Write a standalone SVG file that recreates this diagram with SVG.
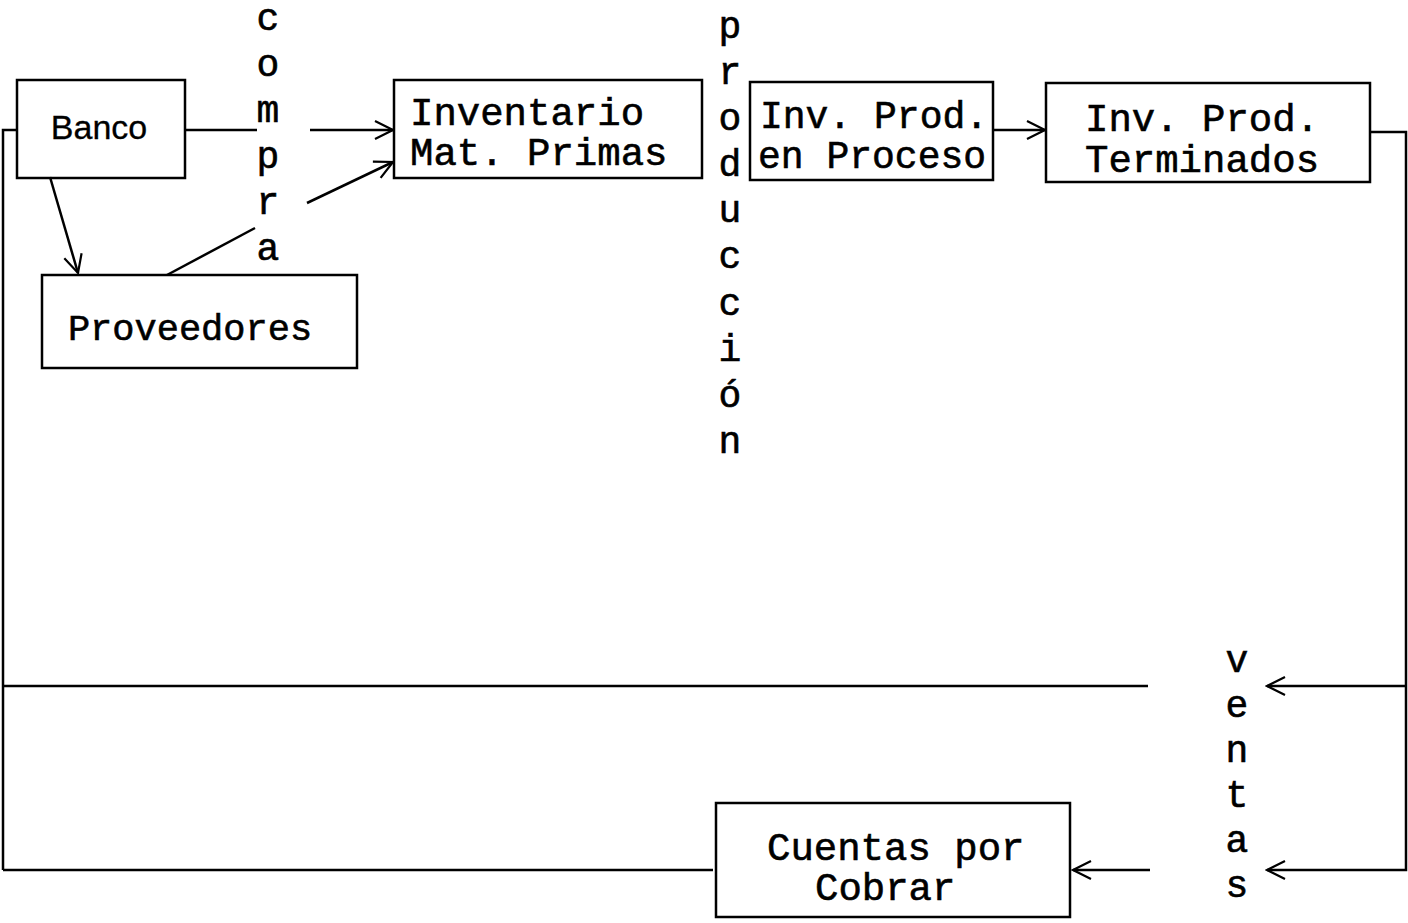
<svg xmlns="http://www.w3.org/2000/svg" width="1408" height="923" viewBox="0 0 1408 923">
<defs>
<style>
.box{fill:none;stroke:#000;stroke-width:2.5}
.ln{fill:none;stroke:#000;stroke-width:2.5}
.t{font-family:"Liberation Mono","DejaVu Sans Mono",monospace;font-size:39px;fill:#000;stroke:#000;stroke-width:0.6}
.v{font-family:"Liberation Mono","DejaVu Sans Mono",monospace;font-size:38px;fill:#000;text-anchor:middle;stroke:#000;stroke-width:0.6}
</style>
<marker id="ah" viewBox="0 0 24 24" refX="22" refY="12" markerWidth="24" markerHeight="24" markerUnits="userSpaceOnUse" orient="auto">
<path d="M4,3 L22,12 L4,21" fill="none" stroke="#000" stroke-width="2.2"/>
</marker>
</defs>
<rect width="1408" height="923" fill="#fff"/>
<g id="connectors">
<path class="ln" d="M17,130 H3 V870"/>
<path class="ln" d="M185,130 H257"/>
<path class="ln" d="M310,130 H393" marker-end="url(#ah)"/>
<path class="ln" d="M167,275 L255,228"/>
<path class="ln" d="M307,203 L393,162" marker-end="url(#ah)"/>
<path class="ln" d="M50,177 L78,273" marker-end="url(#ah)"/>
<path class="ln" d="M993,130 H1045" marker-end="url(#ah)"/>
<path class="ln" d="M1370,132 H1406 V870 H1267" marker-end="url(#ah)"/>
<path class="ln" d="M1406,686 H1267" marker-end="url(#ah)"/>
<path class="ln" d="M3,686 H1148"/>
<path class="ln" d="M3,870 H713"/>
<path class="ln" d="M1150,870 H1073" marker-end="url(#ah)"/>
</g>
<g id="banco">
<rect class="box" x="17" y="80" width="168" height="98"/>
<text class="t" x="99" y="139" text-anchor="middle" style="font-family:'Liberation Sans',Arial,sans-serif;font-size:34px;stroke-width:0.3">Banco</text>
</g>
<g id="proveedores">
<rect class="box" x="42" y="275" width="315" height="93"/>
<text class="t" x="190" y="340" text-anchor="middle" style="font-size:37px">Proveedores</text>
</g>
<g id="inventario">
<rect class="box" x="394" y="80" width="308" height="98"/>
<text class="t" x="410" y="125">Inventario</text>
<text class="t" x="410" y="165">Mat. Primas</text>
</g>
<g id="proceso">
<rect class="box" x="750" y="82" width="243" height="98"/>
<text class="t" x="760" y="128" style="font-size:38px">Inv. Prod.</text>
<text class="t" x="758" y="168" style="font-size:38px">en Proceso</text>
</g>
<g id="terminados">
<rect class="box" x="1046" y="83" width="324" height="99"/>
<text class="t" x="1085" y="131">Inv. Prod.</text>
<text class="t" x="1085" y="172">Terminados</text>
</g>
<g id="cuentas">
<rect class="box" x="716" y="803" width="354" height="114"/>
<text class="t" x="767" y="860">Cuentas por</text>
<text class="t" x="815" y="900">Cobrar</text>
</g>
<g id="compra">
<text class="v" x="268" y="30">c</text>
<text class="v" x="268" y="76">o</text>
<text class="v" x="268" y="122">m</text>
<text class="v" x="268" y="168">p</text>
<text class="v" x="268" y="214">r</text>
<text class="v" x="268" y="260">a</text>
</g>
<g id="produccion">
<text class="v" x="730" y="38">p</text>
<text class="v" x="730" y="84">r</text>
<text class="v" x="730" y="130">o</text>
<text class="v" x="730" y="176">d</text>
<text class="v" x="730" y="222">u</text>
<text class="v" x="730" y="268">c</text>
<text class="v" x="730" y="315">c</text>
<text class="v" x="730" y="361">i</text>
<text class="v" x="730" y="407">ó</text>
<text class="v" x="730" y="453">n</text>
</g>
<g id="ventas">
<text class="v" x="1237" y="672">v</text>
<text class="v" x="1237" y="717">e</text>
<text class="v" x="1237" y="762">n</text>
<text class="v" x="1237" y="807">t</text>
<text class="v" x="1237" y="852">a</text>
<text class="v" x="1237" y="897">s</text>
</g>
</svg>
